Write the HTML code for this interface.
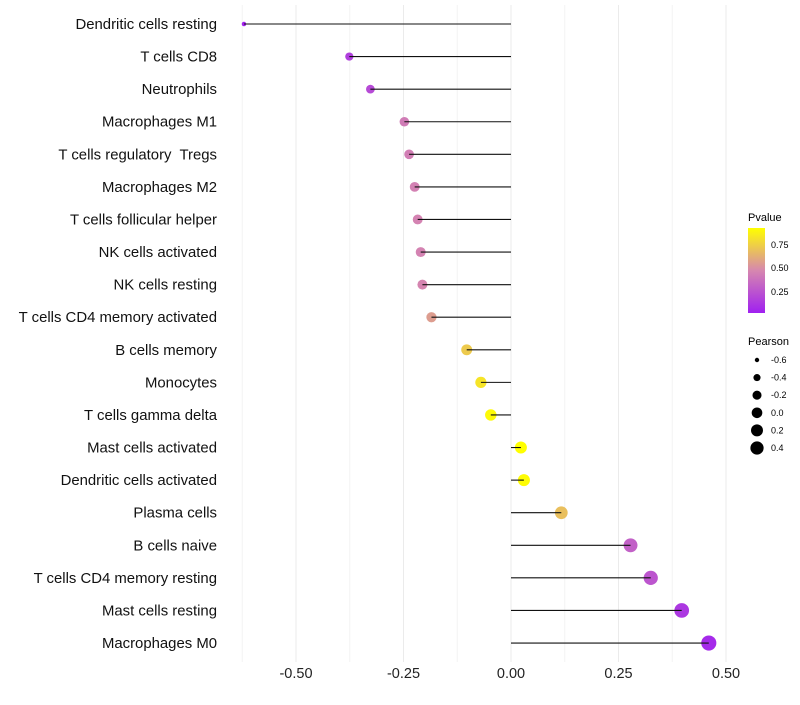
<!DOCTYPE html>
<html><head><meta charset="utf-8"><style>
body{margin:0;background:#fff;font-family:"Liberation Sans",sans-serif}
svg text{font-family:"Liberation Sans",sans-serif;white-space:pre}
</style></head><body>
<svg id="chart" width="800" height="700" xmlns="http://www.w3.org/2000/svg">
<defs><linearGradient id="pg" x1="0" y1="1" x2="0" y2="0">
<stop offset="0" stop-color="#A020F0"/><stop offset="0.5" stop-color="#D687AF"/><stop offset="1" stop-color="#FFFF00"/></linearGradient></defs>
<g id="grid"></g><g id="marks"></g><g id="labels"></g>
<g>
<text x="748" y="221" font-size="11">Pvalue</text>
<rect x="748" y="228" width="17" height="85" fill="url(#pg)"/>
<text x="771" y="248" font-size="9">0.75</text>
<text x="771" y="271" font-size="9">0.50</text>
<text x="771" y="295" font-size="9">0.25</text>
</g>
<g id="sizeLegend">
<text x="748" y="345" font-size="11">Pearson</text>
</g>
</svg>
<script>
const categories=["Dendritic cells resting","T cells CD8","Neutrophils","Macrophages M1","T cells regulatory  Tregs","Macrophages M2","T cells follicular helper","NK cells activated","NK cells resting","T cells CD4 memory activated","B cells memory","Monocytes","T cells gamma delta","Mast cells activated","Dendritic cells activated","Plasma cells","B cells naive","T cells CD4 memory resting","Mast cells resting","Macrophages M0"];
const pearson=[-0.621,-0.376,-0.327,-0.248,-0.237,-0.224,-0.217,-0.21,-0.206,-0.185,-0.103,-0.07,-0.047,0.023,0.03,0.117,0.278,0.325,0.397,0.46];
const pvalues=[0.03,0.15,0.2,0.42,0.43,0.44,0.45,0.45,0.46,0.55,0.72,0.82,0.9,0.92,0.91,0.68,0.3,0.25,0.12,0.06];
const xTicks=[-0.5,-0.25,0,0.25,0.5];
const xTickLabels=["-0.50","-0.25","0.00","0.25","0.50"];
const sizeLegendVals=[-0.6,-0.4,-0.2,0.0,0.2,0.4];
const sizeLegendLabels=["-0.6","-0.4","-0.2","0.0","0.2","0.4"];
const NS="http://www.w3.org/2000/svg";
const X=v=>511+430*v;
const Y=i=>24+i*32.58;
const minV=-0.621,maxV=0.46;
const R=v=>Math.sqrt(5+52*(v-minV)/(maxV-minV));
const pMin=0.016,pMax=0.92;
function col(p){let t=Math.max(0,Math.min(1,(p-pMin)/(pMax-pMin)));
 const a=[160,32,240],m=[214,135,175],b=[255,255,0];let c;
 if(t<0.5){const u=t*2;c=a.map((x,k)=>Math.round(x+(m[k]-x)*u));}else{const u=(t-0.5)*2;c=m.map((x,k)=>Math.round(x+(b[k]-x)*u));}
 return "rgb("+c.join(",")+")";}
function mk(t,at,parent){const e=document.createElementNS(NS,t);for(const k in at)e.setAttribute(k,at[k]);parent.appendChild(e);return e;}
const grid=document.getElementById('grid'),marks=document.getElementById('marks'),labels=document.getElementById('labels');
for(let v=-0.625;v<=0.501;v+=0.125){const l=mk('line',{x1:X(v),x2:X(v),y1:5,y2:662,stroke:Math.abs((v*4)%1)<1e-6?'#EBEBEB':'#F3F3F3','stroke-width':1},grid);

}
xTicks.forEach((v,i)=>{const t=mk('text',{x:X(v),y:678,'font-size':14.5,'text-anchor':'middle',fill:'#222'},labels);t.textContent=xTickLabels[i];

});
categories.forEach((c,i)=>{const y=Y(i);
 const t=mk('text',{x:217,y:y+5,'font-size':14.9,'text-anchor':'end',fill:'#111'},labels);t.textContent=c;
 
 
 const p=mk('circle',{cx:X(pearson[i]),cy:y,r:R(pearson[i]),fill:col(pvalues[i])},marks);
 
 
 const s=mk('line',{x1:X(0),x2:X(pearson[i]),y1:y,y2:y,stroke:'#111','stroke-width':1.1},marks);
 
 
});
const sl=document.getElementById('sizeLegend');
sizeLegendVals.forEach((v,i)=>{const y=360+i*17.6;
 const c=mk('circle',{cx:757,cy:y,r:R(v)*0.9,fill:'#000'},sl);
 
 
 const t=mk('text',{x:771,y:y+3,'font-size':9},sl);t.textContent=sizeLegendLabels[i];
 
 });
</script>
</body></html>
